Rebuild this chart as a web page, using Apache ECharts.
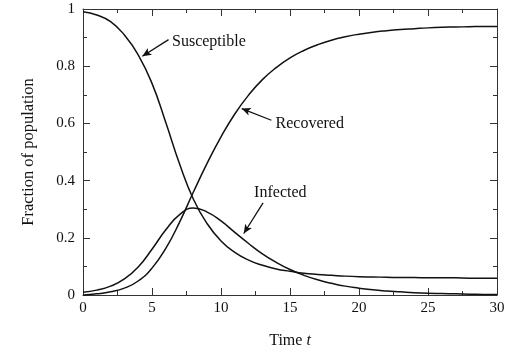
<!DOCTYPE html>
<html>
<head>
<meta charset="utf-8">
<script src="https://cdn.jsdelivr.net/npm/echarts@6/dist/echarts.min.js"></script>
<style>
  html,body{margin:0;padding:0;background:#fff;}
  #chart{width:512px;height:354px;}
</style>
</head>
<body>
<div id="chart"></div>
<script>
// time steps and fractions
var times = [0,1,2,3,4,5,6,7,8,9,10,11,12,13,14,15,16,17,18,19,20,21,22,23,24,25,26,27,28,29,30];
var susceptible = [0.990,0.979,0.956,0.909,0.840,0.740,0.603,0.458,0.335,0.249,0.189,0.149,0.122,0.104,0.091,0.083,
  0.076,0.072,0.069,0.066,0.064,0.063,0.062,0.061,0.061,0.060,0.060,0.060,0.059,0.059,0.059];
var infected = [0.010,0.017,0.031,0.056,0.098,0.160,0.228,0.281,0.304,0.290,0.259,0.219,0.180,0.144,0.114,0.089,
  0.069,0.053,0.041,0.031,0.024,0.018,0.014,0.011,0.008,0.006,0.005,0.004,0.003,0.002,0.002];
var recovered = [0.000,0.004,0.011,0.024,0.049,0.094,0.163,0.255,0.360,0.461,0.553,0.633,0.699,0.753,0.795,0.829,
  0.855,0.875,0.891,0.903,0.912,0.919,0.924,0.928,0.931,0.934,0.936,0.937,0.938,0.939,0.939];

var xTicks = [0,5,10,15,20,25,30];
var yTicks = [0,0.2,0.4,0.6,0.8,1];

// labels: [name, text anchor, arrow tail, arrow tip]
var notes = [
  ['Susceptible', [6.45,0.885], [6.2,0.893], [4.3,0.835]],
  ['Recovered',   [13.95,0.60], [13.65,0.611], [11.5,0.652]],
  ['Infected',    [12.4,0.359], [13.05,0.322], [11.65,0.215]]
];

var font = 'Liberation Serif, Times New Roman, serif';
var ink = '#111';

function pairs(ys){
  return times.map(function(t,i){ return [t, ys[i]]; });
}

var chart = echarts.init(document.getElementById('chart'));

function axisBase(){
  return {
    type:'value',
    axisLine:{show:true, onZero:false, lineStyle:{color:'#333', width:1}},
    axisTick:{show:true, inside:true, length:7, lineStyle:{color:'#333'}},
    minorTick:{show:true, splitNumber:2, length:4, lineStyle:{color:'#333'}},
    splitLine:{show:false},
    axisLabel:{show:false}
  };
}

var xMain = axisBase();
xMain.min = xTicks[0]; xMain.max = xTicks[xTicks.length-1]; xMain.interval = 5;
xMain.position = 'bottom';
xMain.axisLabel = {show:true, color:ink, fontFamily:font, fontSize:15, margin:6};
xMain.name = '{a|Time }{b|t}';
xMain.nameLocation = 'middle';
xMain.nameGap = 38;
xMain.nameTextStyle = {rich:{
  a:{fontFamily:font, fontSize:16, color:ink},
  b:{fontFamily:font, fontSize:16, color:ink, fontStyle:'italic'}
}};

var xTop = axisBase();
xTop.min = 0; xTop.max = 30; xTop.interval = 5; xTop.position = 'top';

var yMain = axisBase();
yMain.min = yTicks[0]; yMain.max = yTicks[yTicks.length-1]; yMain.interval = 0.2;
yMain.position = 'left';
yMain.axisLabel = {show:true, color:ink, fontFamily:font, fontSize:15, margin:8};
yMain.name = 'Fraction of population';
yMain.nameLocation = 'middle';
yMain.nameGap = 46;
yMain.nameTextStyle = {fontFamily:font, fontSize:16.5, color:ink};

var yRight = axisBase();
yRight.min = 0; yRight.max = 1; yRight.interval = 0.2; yRight.position = 'right';

function curve(name, ys){
  return {
    name:name, type:'line', xAxisIndex:0, yAxisIndex:0,
    data:pairs(ys), smooth:true, symbol:'none',
    lineStyle:{color:ink, width:1.5}
  };
}

var series = [
  curve('Susceptible', susceptible),
  curve('Infected', infected),
  curve('Recovered', recovered)
];

// annotation texts and arrows
series.push({
  type:'scatter', xAxisIndex:0, yAxisIndex:0, symbol:'none', silent:true,
  data:[],
  markPoint:{
    symbol:'circle', symbolSize:0,
    label:{show:true, position:'right', distance:0, color:ink, fontFamily:font, fontSize:16,
      formatter:function(p){ return p.name; }},
    data:notes.map(function(n){ return {name:n[0], coord:n[1]}; })
  },
  markLine:{
    silent:true, symbol:['none','arrow'], symbolSize:[6,9],
    lineStyle:{color:ink, width:1.3, type:'solid'},
    label:{show:false},
    data:notes.map(function(n){ return [{coord:n[2]},{coord:n[3]}]; })
  }
});

chart.setOption({
  animation:false,
  backgroundColor:'#fff',
  grid:{left:83, right:15, top:9, bottom:56},
  xAxis:[xMain, xTop],
  yAxis:[yMain, yRight],
  series:series
});
</script>
</body>
</html>
